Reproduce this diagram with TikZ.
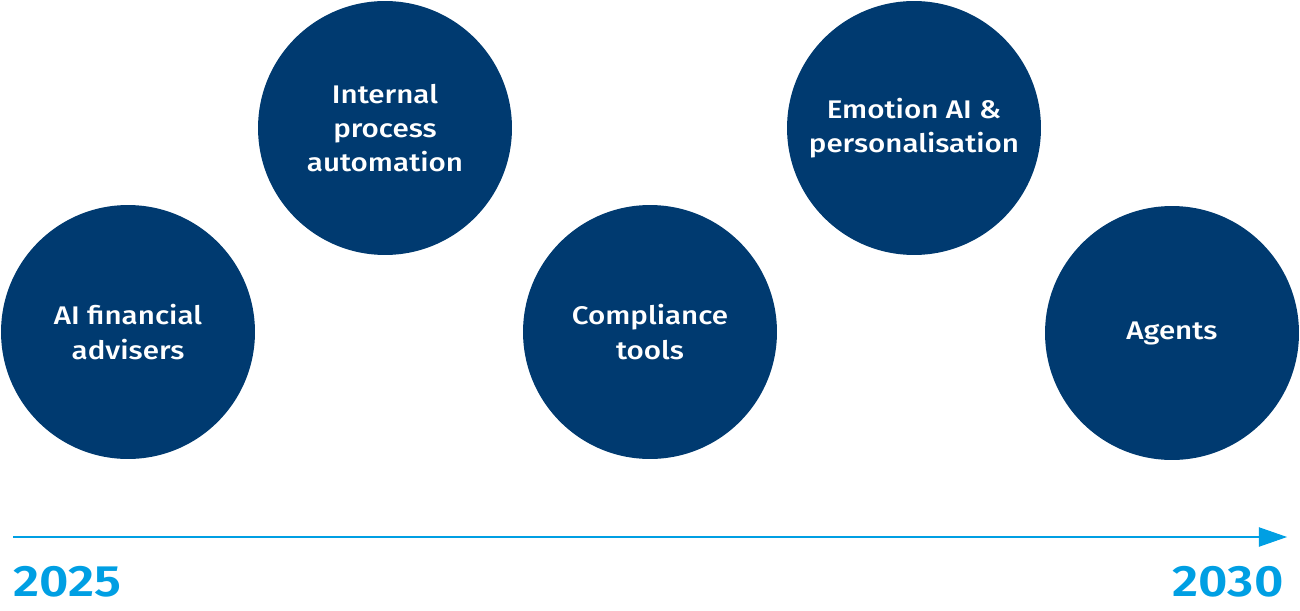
\documentclass[tikz,border=0pt]{standalone}
\usepackage{fontspec}
\setmainfont{Fira Sans}[UprightFont={* Medium},BoldFont={* SemiBold},FakeStretch=1.16]
\usetikzlibrary{arrows.meta}
\definecolor{navy}{HTML}{003A70}
\definecolor{skyblue}{HTML}{009FE3}

\begin{document}
\begin{tikzpicture}[x=0.02cm,y=-0.02cm,
	topic/.style={circle,fill=navy,text=white,minimum size=5.08cm,inner sep=0pt,
		align=center,font=\fontsize{14.5}{19.5}\selectfont},
	year/.style={text=skyblue,font=\bfseries\fontsize{25}{30}\selectfont,inner sep=0pt}]
	\useasboundingbox (0,0) rectangle (1300,611);
	\node[topic] (advisers) at (128, 332) {AI financial\\advisers};
	\node[topic] (automation) at (385, 128) {Internal\\process\\automation};
	\node[topic] (compliance) at (650, 332) {Compliance\\tools};
	\node[topic] (emotion) at (914, 128) {Emotion AI \&\\personalisation};
	\node[topic] (agents) at (1172, 333) {Agents};
	\coordinate (start) at (13, 537);
	\coordinate (end) at (1287, 537);
	\draw[skyblue,line width=0.6pt,-{Triangle[length=16pt,width=11pt]}] (start) -- (end);
	\node[year,anchor=north west] (y2025) at (13, 566) {2025};
	\node[year,anchor=north east] (y2030) at (1284, 566) {2030};
\end{tikzpicture}
\end{document}
